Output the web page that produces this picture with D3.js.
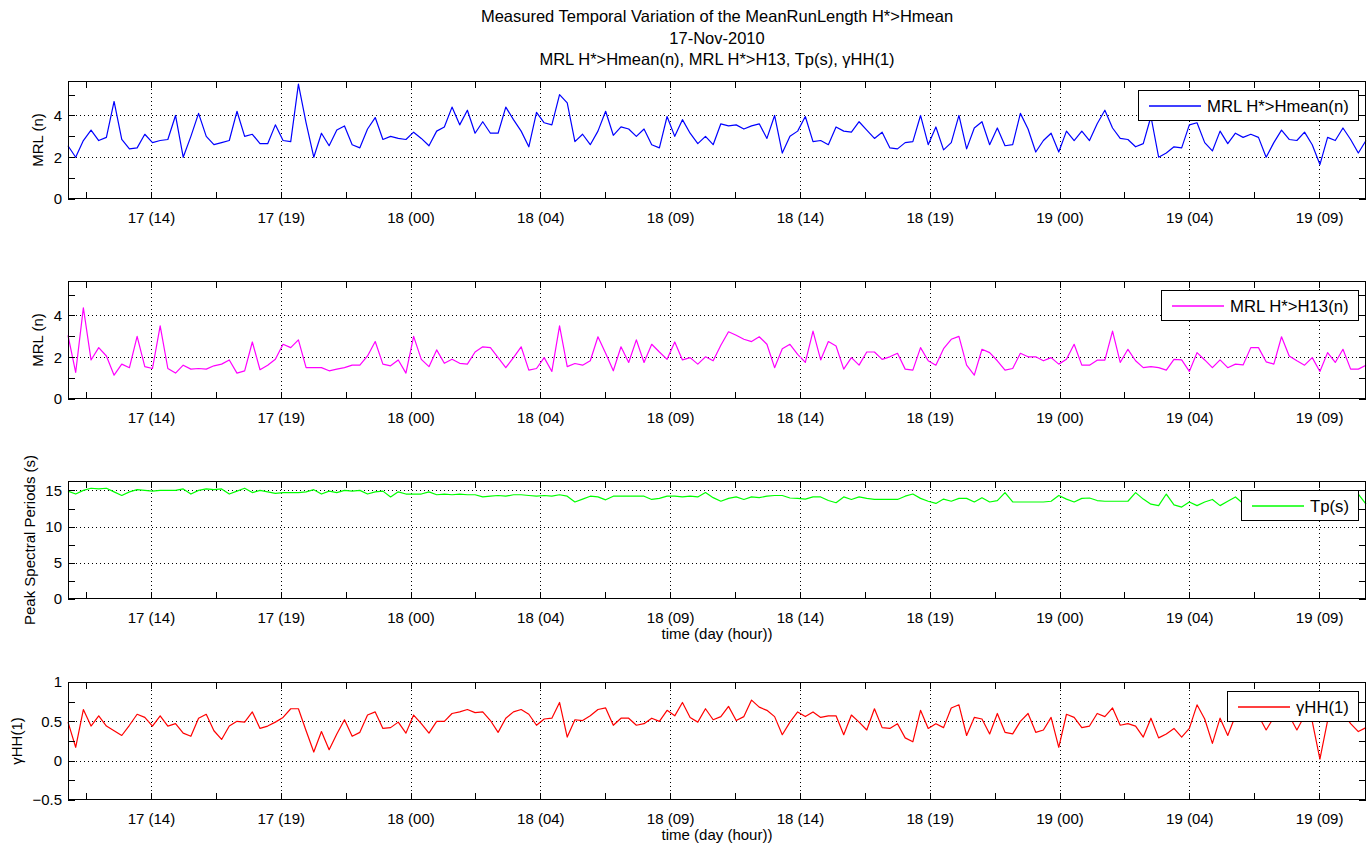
<!DOCTYPE html>
<html>
<head>
<meta charset="utf-8">
<script src="https://cdn.jsdelivr.net/npm/d3@7"></script>
<style>
  body { margin: 0; background: #fff; }
  svg text { font-family: "Liberation Sans", Arial, Helvetica, sans-serif; fill: #000; }
</style>
</head>
<body>
<svg id="chart" width="1369" height="850"></svg>
<script>
// ---- Data -------------------------------------------------------------
const titleLines = [
  "Measured Temporal Variation of the MeanRunLength H*>Hmean",
  "17-Nov-2010",
  "MRL H*>Hmean(n), MRL H*>H13, Tp(s), \u03b3HH(1)"
];

// Record window, hours since 17-Nov-2010 00:00
const startHour = 11 + 20 / 60;
const endHour = 59 + 20 / 60;

// Time ticks (hours since 17-Nov 00:00) and their labels "day (hour)"
const tickHours = [12, 14.4, 16.8, 19.2, 21.6, 24, 26.4, 28.8, 31.2, 33.6, 36, 38.4,
                   40.8, 43.2, 45.6, 48, 50.4, 52.8, 55.2, 57.6];
const labelledTickHours = [14.4, 19.2, 24, 28.8, 33.6, 38.4, 43.2, 48, 52.8, 57.6];
const timeTickLabels = ["17 (14)", "17 (19)", "18 (00)", "18 (04)", "18 (09)",
                        "18 (14)", "18 (19)", "19 (00)", "19 (04)", "19 (09)"];

// Mean run length of H* above Hmean (n)
const mrlHmean = [
  2.55, 2.0, 2.8, 3.3, 2.8, 2.95, 4.67, 2.85, 2.4, 2.45, 3.1, 2.7, 2.8, 2.85, 4.0, 2.0, 3.0, 4.1,
  3.0, 2.6, 2.7, 2.8, 4.2, 3.0, 3.1, 2.65, 2.65, 3.55, 2.8, 2.75, 5.5, 3.65, 2.0, 3.15, 2.55, 3.3,
  3.5, 2.6, 2.45, 3.35, 3.9, 2.85, 3.0, 2.9, 2.85, 3.2, 2.9, 2.55, 3.25, 3.45, 4.4, 3.55, 4.25, 3.15,
  3.7, 3.15, 3.15, 4.4, 3.8, 3.25, 2.5, 4.15, 3.65, 3.55, 5.0, 4.6, 2.75, 3.1, 2.6, 3.25, 4.2, 3.05,
  3.45, 3.35, 3.0, 3.35, 2.6, 2.45, 3.95, 3.0, 3.8, 3.15, 2.65, 3.0, 2.6, 3.6, 3.5, 3.55, 3.35, 3.5,
  3.6, 2.9, 4.0, 2.2, 3.0, 3.25, 3.95, 2.75, 2.8, 2.6, 3.45, 3.25, 3.2, 3.7, 3.3, 2.9, 3.2, 2.45,
  2.4, 2.7, 2.75, 4.0, 2.6, 3.45,
  2.35, 2.7, 4.0, 2.4, 3.4, 3.7, 2.6, 3.4, 2.55, 2.6, 4.1, 3.35, 2.25, 2.8, 3.15, 2.25, 3.25, 2.8,
  3.25, 2.8, 3.6, 4.25, 3.4, 2.9, 2.85, 2.5, 2.65, 3.95, 2.0, 2.2, 2.5, 2.45, 3.55, 3.65, 2.7, 2.3,
  3.25, 2.65, 3.15, 2.95, 3.1, 2.95, 2.0, 2.7, 3.3, 2.85, 2.8, 3.2, 2.6, 1.65, 2.95, 2.8, 3.4, 2.85,
  2.2, 2.8
];

// Mean run length of H* above H1/3 (n)
const mrlH13 = [
  3.05, 1.27, 4.37, 1.87, 2.46, 2.06, 1.14, 1.67, 1.5, 3.0, 1.55, 1.46, 3.5, 1.46, 1.24, 1.62, 1.43,
  1.46, 1.43, 1.59, 1.67, 1.87, 1.24, 1.35, 2.73, 1.4, 1.62, 1.9, 2.62, 2.46, 2.83, 1.5, 1.5, 1.5,
  1.35, 1.43, 1.5, 1.62, 1.62, 2.06, 2.75, 1.67, 1.59, 1.87, 1.24, 3.0, 1.9, 1.55, 2.35, 1.71, 1.9,
  1.71, 1.67, 2.25,
  2.5, 2.46, 1.98, 1.5, 1.98, 2.5, 1.38, 1.46, 1.98, 1.32, 3.5, 1.55, 1.7, 1.62, 1.83, 2.98, 2.19,
  1.35, 2.5, 1.75, 2.83, 1.75, 2.62, 2.25, 1.9, 2.73, 1.87, 1.98, 1.67, 2.02, 1.83, 2.57, 3.22, 3.05,
  2.86, 2.75, 2.98, 2.62, 1.5, 2.41, 2.62, 2.14, 1.75, 3.25, 1.87, 2.75, 2.54, 1.43, 1.98, 1.62, 2.25,
  2.25, 1.9, 2.02, 2.19, 1.43, 1.38, 2.46, 1.83, 1.62,
  2.41, 2.86, 3.0, 1.62, 1.14, 2.38, 2.22, 1.83, 1.38, 1.46, 2.19, 2.02, 2.02, 1.83, 1.98, 1.67, 1.9,
  2.62, 1.62, 1.62, 1.86, 1.86, 3.25, 1.75, 2.38, 1.83, 1.5, 1.55, 1.5, 1.38, 1.9, 1.87, 1.32, 2.22,
  1.87, 1.5, 1.87, 1.5, 1.67, 1.63, 2.46, 2.46, 1.78, 1.67, 2.98, 2.06, 1.83, 1.62, 1.98, 1.32, 2.22,
  1.75, 2.38, 1.43, 1.43, 1.62
];

// Peak spectral period Tp (s)
const peakPeriod = [
  14.9, 14.5, 15.0, 15.3, 15.2, 15.3, 14.8, 14.3, 14.8, 15.1, 15.0, 14.9, 15.0, 15.0, 15.0, 15.2,
  14.5, 15.0, 15.2, 15.1, 15.2, 14.5, 14.9, 15.3, 14.7, 15.0, 14.8, 14.6, 14.7, 14.7, 14.7, 14.8,
  15.1, 14.5, 14.9, 14.7, 15.0, 14.9, 15.0, 14.5, 14.8, 14.9, 14.1, 14.8, 14.5, 14.5, 14.5, 14.8,
  14.4, 14.5, 14.4, 14.5, 14.4, 14.4, 14.1, 14.2, 14.3, 14.2, 14.4, 14.4, 14.3, 14.2, 14.3, 14.2,
  14.4, 14.2, 13.4, 13.8, 14.2, 14.1, 13.7, 14.2, 14.2, 14.2, 14.2, 14.2, 13.75, 13.9, 14.2, 14.2,
  14.1, 14.2,
  14.1, 14.7, 14.0, 13.5, 13.9, 14.1, 13.75, 14.1, 14.0, 14.2, 14.3, 14.3, 13.95, 13.9, 13.8, 14.1,
  14.1, 13.6, 13.3, 14.1, 13.75, 14.1, 13.9, 13.75, 13.75, 13.75, 13.75, 14.2, 14.5, 13.9, 13.5,
  13.2, 13.8, 13.5, 13.9, 13.9, 13.4, 14.0, 13.4, 13.6, 14.7, 13.4, 13.4, 13.4, 13.4, 13.4, 13.5,
  14.3, 13.8, 13.4, 13.9, 13.95, 13.6, 13.5, 13.5, 13.5, 13.5, 14.7, 13.8, 13.1, 12.9, 14.5, 13.0,
  12.7, 13.4, 12.9, 13.4, 13.75, 12.9, 13.5, 14.1, 13.2, 13.2,
  13.4, 13.6, 13.3, 13.5, 13.4, 13.7, 13.3, 13.5, 13.6, 13.4, 13.5, 13.3, 13.6, 14.5, 13.1
];

// Wave-group correlation coefficient gammaHH(1)
const gammaHH = [
  0.49, 0.17, 0.65, 0.44, 0.57, 0.44, 0.38, 0.32, 0.45, 0.59, 0.55, 0.44, 0.57, 0.44, 0.47, 0.35,
  0.31, 0.54, 0.59, 0.38, 0.27, 0.44, 0.5, 0.49, 0.62, 0.41, 0.44, 0.49, 0.55, 0.66, 0.66, 0.38,
  0.11, 0.37, 0.14, 0.34, 0.52, 0.31, 0.36, 0.58, 0.62, 0.41, 0.42, 0.49, 0.35, 0.58, 0.47, 0.35,
  0.5, 0.5, 0.6, 0.62, 0.65, 0.61,
  0.62, 0.51, 0.36, 0.54, 0.62, 0.65, 0.59, 0.45, 0.53, 0.54, 0.74, 0.30, 0.52, 0.51, 0.57, 0.65,
  0.67, 0.45, 0.54, 0.54, 0.45, 0.47, 0.54, 0.50, 0.64, 0.57, 0.74, 0.55, 0.49, 0.66, 0.52, 0.56,
  0.69, 0.51, 0.56, 0.77, 0.68, 0.64, 0.56, 0.33, 0.49, 0.62, 0.56, 0.62, 0.55, 0.57, 0.57, 0.33,
  0.58, 0.49, 0.39, 0.66, 0.42, 0.41, 0.47, 0.29, 0.24, 0.64, 0.41, 0.47,
  0.42, 0.67, 0.71, 0.32, 0.55, 0.53, 0.34, 0.60, 0.36, 0.34, 0.50, 0.60, 0.36, 0.39, 0.55, 0.17,
  0.59, 0.55, 0.42, 0.44, 0.60, 0.56, 0.67, 0.45, 0.47, 0.44, 0.30, 0.54, 0.29, 0.34, 0.41, 0.30,
  0.41, 0.71, 0.53, 0.22, 0.54, 0.32, 0.57, 0.62, 0.55, 0.57, 0.39, 0.55, 0.59, 0.57, 0.39, 0.57,
  0.50, 0.02, 0.51, 0.62, 0.60, 0.47, 0.37, 0.42
];

// Regular sampling over the record window
const sampleHours = mrlHmean.map((_, i) => startHour + i * (endHour - startHour) / (mrlHmean.length - 1));

// ---- Panel definitions ---------------------------------------------------
const panels = [
  { values: mrlHmean, color: "#0000ff", yDomain: [0, 5.65], yTicks: [0, 1, 2, 3, 4, 5],
    yLabelled: [0, 2, 4], yGrid: [2, 4], yTitle: "MRL (n)", legend: "MRL H*>Hmean(n)", xTitle: null },
  { values: mrlH13, color: "#ff00ff", yDomain: [0, 5.65], yTicks: [0, 1, 2, 3, 4, 5],
    yLabelled: [0, 2, 4], yGrid: [2, 4], yTitle: "MRL (n)", legend: "MRL H*>H13(n)", xTitle: null },
  { values: peakPeriod, color: "#00ff00", yDomain: [0, 16.3], yTicks: [0, 2.5, 5, 7.5, 10, 12.5, 15],
    yLabelled: [0, 5, 10, 15], yGrid: [5, 10, 15], yTitle: "Peak Spectral Periods (s)", legend: "Tp(s)",
    xTitle: "time (day (hour))" },
  { values: gammaHH, color: "#ff0000", yDomain: [-0.5, 1], yTicks: [-0.5, -0.25, 0, 0.25, 0.5, 0.75, 1],
    yLabelled: [-0.5, 0, 0.5, 1], yGrid: [0, 0.5], yTitle: "\u03b3HH(1)", legend: "\u03b3HH(1)",
    xTitle: "time (day (hour))" }
];

// ---- Layout ----------------------------------------------------------------
const plotLeft = 68, plotRight = 1366;
const panelTops = [81, 281, 481, 682];
const panelHeight = 118;
const tickLen = 7;
const fontTick = 15, fontTitle = 16.5, fontLegend = 16.7;

const svg = d3.select("#chart");
svg.append("rect").attr("width", 1369).attr("height", 850).attr("fill", "#fff");

// Figure title
svg.append("g").selectAll("text").data(titleLines).join("text")
  .attr("x", (plotLeft + plotRight) / 2)
  .attr("y", (d, i) => 22 + i * 21.5)
  .attr("text-anchor", "middle")
  .attr("font-size", fontTitle)
  .text(d => d);

const x = d3.scaleLinear().domain([startHour, endHour]).range([plotLeft, plotRight]);
const labelOf = h => {
  const k = labelledTickHours.findIndex(v => Math.abs(v - h) < 1e-6);
  return k >= 0 ? timeTickLabels[k] : "";
};

panels.forEach((p, idx) => {
  const top = panelTops[idx], bottom = top + panelHeight;
  const y = d3.scaleLinear().domain(p.yDomain).range([bottom, top]);
  const g = svg.append("g");

  // dotted grid
  const grid = g.append("g").attr("stroke", "#000").attr("stroke-width", 1)
    .attr("stroke-dasharray", "1,3").attr("shape-rendering", "crispEdges");
  grid.selectAll("line.gx").data(labelledTickHours).join("line")
    .attr("x1", d => Math.round(x(d)) + 0.5).attr("x2", d => Math.round(x(d)) + 0.5)
    .attr("y1", top).attr("y2", bottom);
  grid.selectAll("line.gy").data(p.yGrid).join("line")
    .attr("x1", plotLeft).attr("x2", plotRight)
    .attr("y1", d => Math.round(y(d)) + 0.5).attr("y2", d => Math.round(y(d)) + 0.5);

  // series line
  const line = d3.line().x((d, i) => x(sampleHours[i])).y(d => y(d));
  g.append("path").datum(p.values)
    .attr("fill", "none").attr("stroke", p.color).attr("stroke-width", 1.2)
    .attr("stroke-linejoin", "round")
    .attr("d", line);

  // axes, ticks pointing inward on all four sides
  const styleAxis = sel => {
    sel.select(".domain").remove();
    sel.selectAll(".tick line").attr("stroke", "#000").attr("shape-rendering", "crispEdges");
    sel.selectAll(".tick text").attr("font-size", fontTick).attr("fill", "#000");
  };
  g.append("g").attr("transform", `translate(0,${bottom})`)
    .call(d3.axisBottom(x).tickValues(tickHours).tickSizeInner(-tickLen).tickSizeOuter(0)
      .tickPadding(13).tickFormat(labelOf))
    .call(styleAxis);
  g.append("g").attr("transform", `translate(0,${top})`)
    .call(d3.axisTop(x).tickValues(tickHours).tickSizeInner(-tickLen).tickSizeOuter(0)
      .tickFormat(() => ""))
    .call(styleAxis);
  const yAxisG = g.append("g").attr("transform", `translate(${plotLeft},0)`)
    .call(d3.axisLeft(y).tickValues(p.yTicks).tickSizeInner(-tickLen).tickSizeOuter(0)
      .tickPadding(6).tickFormat(v => p.yLabelled.includes(v) ? d3.format("")(v) : ""))
    .call(styleAxis);
  g.append("g").attr("transform", `translate(${plotRight},0)`)
    .call(d3.axisRight(y).tickValues(p.yTicks).tickSizeInner(-tickLen).tickSizeOuter(0)
      .tickFormat(() => ""))
    .call(styleAxis);

  // frame
  g.append("rect")
    .attr("x", plotLeft + 0.5).attr("y", top + 0.5)
    .attr("width", plotRight - plotLeft - 1).attr("height", panelHeight - 1)
    .attr("fill", "none").attr("stroke", "#000").attr("shape-rendering", "crispEdges");

  // y title, placed just left of the widest tick label
  let minLeft = plotLeft;
  yAxisG.selectAll(".tick text").each(function () {
    if (this.textContent) minLeft = Math.min(minLeft, this.getBBox().x + plotLeft);
  });
  const yt = minLeft - 10.5;
  g.append("text")
    .attr("transform", `translate(${yt},${(top + bottom) / 2}) rotate(-90)`)
    .attr("text-anchor", "middle")
    .attr("font-size", fontTick)
    .text(p.yTitle);

  // x title
  if (p.xTitle) {
    g.append("text")
      .attr("x", (plotLeft + plotRight) / 2).attr("y", bottom + 40)
      .attr("text-anchor", "middle").attr("font-size", fontTick)
      .text(p.xTitle);
  }

  // legend
  const lg = g.append("g");
  const lbox = lg.append("rect");
  const ltxt = lg.append("text").attr("font-size", fontLegend).text(p.legend);
  const tw = ltxt.node().getComputedTextLength();
  const lw = Math.round(69 + tw + 9), lh = 30;
  const lx = plotRight - 8 - lw, ly = top + 9;
  lbox.attr("x", lx + 0.5).attr("y", ly + 0.5).attr("width", lw).attr("height", lh)
    .attr("fill", "#fff").attr("stroke", "#000").attr("shape-rendering", "crispEdges");
  const ly0 = ly + lh / 2 + 1;
  lg.append("line")
    .attr("x1", lx + 11).attr("x2", lx + 63)
    .attr("y1", ly0).attr("y2", ly0)
    .attr("stroke", p.color).attr("stroke-width", 1.3);
  ltxt.attr("x", lx + 69).attr("y", ly0).attr("dy", "0.35em");
});
</script>
</body>
</html>
